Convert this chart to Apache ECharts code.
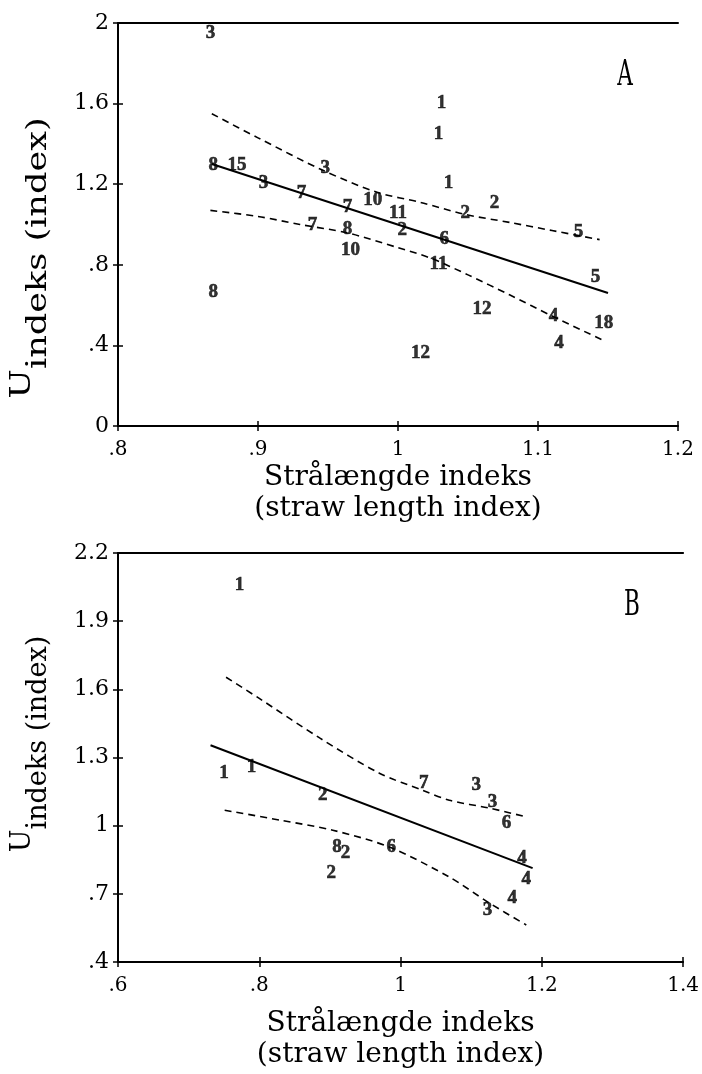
<!DOCTYPE html>
<html>
<head>
<meta charset="utf-8">
<script src="https://cdn.jsdelivr.net/npm/echarts@6/dist/echarts.min.js"></script>
<style>html,body{margin:0;padding:0;background:#fff}#c{width:702px;height:1074px}</style>
</head>
<body>
<div id="c"></div>
<script>
// ---------- Panel A data ----------
const labelsA = ['3','1','1','1','2','2','5','5','18','4','4','12','12','11','6','11','2','10','7','8','10','7','7','3','3','8','15','8'];
const xA = [0.866,1.031,1.029,1.036,1.069,1.048,1.129,1.141,1.147,1.111,1.115,1.060,1.016,1.029,1.033,1.000,1.003,0.982,0.964,0.964,0.966,0.939,0.931,0.904,0.948,0.868,0.885,0.868];
const yA = [1.950,1.603,1.449,1.206,1.107,1.057,0.963,0.739,0.511,0.546,0.412,0.581,0.362,0.804,0.928,1.057,0.973,1.122,1.087,0.978,0.873,0.998,1.156,1.206,1.280,1.295,1.295,0.665];
const regAx = [0.867,1.150];
const regAy = [1.300,0.660];
const upAx = [0.867,0.900,0.946,0.985,1.016,1.048,1.080,1.110,1.144];
const upAy = [1.550,1.430,1.270,1.160,1.110,1.050,1.010,0.970,0.925];
const loAx = [0.866,0.900,0.930,0.964,1.000,1.023,1.050,1.080,1.110,1.146];
const loAy = [1.070,1.040,1.000,0.958,0.885,0.834,0.750,0.650,0.546,0.427];
const xTicksA = [0.8,0.9,1.0,1.1,1.2];
const yTicksA = [0,0.4,0.8,1.2,1.6,2.0];

// ---------- Panel B data ----------
const labelsB = ['1','1','1','2','7','3','3','6','4','4','4','3','6','8','2','2'];
const xB = [0.772,0.750,0.789,0.890,1.033,1.107,1.130,1.150,1.172,1.178,1.158,1.123,0.987,0.910,0.922,0.902];
const yB = [2.057,1.231,1.257,1.134,1.187,1.178,1.103,1.011,0.857,0.765,0.681,0.629,0.906,0.906,0.879,0.791];
const regBx = [0.731,1.187];
const regBy = [1.354,0.813];
const upBx = [0.753,0.800,0.886,0.970,1.031,1.069,1.126,1.180];
const upBy = [1.653,1.560,1.385,1.231,1.156,1.112,1.077,1.037];
const loBx = [0.751,0.830,0.904,0.984,1.069,1.126,1.178];
const loBy = [1.068,1.024,0.980,0.906,0.774,0.659,0.563];
const xTicksB = [0.6,0.8,1.0,1.2,1.4];
const yTicksB = [0.4,0.7,1.0,1.3,1.6,1.9,2.2];

const xNameText = 'Strålængde indeks\n(straw length index)';
const yNameText = '{u|U}{s|indeks (index)}';

// ---------- helpers ----------
const SERIF = '"DejaVu Serif", serif';
const fmt = v => String(Math.round(v * 1000) / 1000).replace(/^0\./, '.');
const pairs = (xs, ys) => xs.map((x, i) => [x, ys[i]]);
const triples = (xs, ys, ls) => xs.map((x, i) => [x, ys[i], ls[i]]);

function mainX(grid, min, max, ticks, gap) {
  return {
    gridIndex: grid, type: 'value', min, max, position: 'bottom',
    axisLine: { lineStyle: { color: '#000', width: 2 } },
    axisTick: { length: 5, customValues: ticks, lineStyle: { color: '#000', width: 1.5 } },
    axisLabel: { customValues: ticks, formatter: fmt, margin: 14, color: '#000', fontSize: 20, fontFamily: SERIF },
    splitLine: { show: false },
    name: xNameText, nameLocation: 'middle', nameGap: gap,
    nameTextStyle: { color: '#000', fontSize: 28, fontFamily: SERIF, lineHeight: 31 }
  };
}
function innerX(grid, min, max, ticks) {
  return {
    gridIndex: grid, type: 'value', min, max, position: 'bottom',
    axisLine: { show: false },
    axisTick: { inside: true, length: 5, customValues: ticks, lineStyle: { color: '#000', width: 1.5 } },
    axisLabel: { show: false }, splitLine: { show: false }
  };
}
function topX(grid, min, max) {
  return {
    gridIndex: grid, type: 'value', min, max, position: 'top',
    axisLine: { lineStyle: { color: '#000', width: 2 } },
    axisTick: { show: false }, axisLabel: { show: false }, splitLine: { show: false }
  };
}
function mainY(grid, min, max, ticks) {
  return {
    gridIndex: grid, type: 'value', min, max, position: 'left',
    axisLine: { lineStyle: { color: '#000', width: 2 } },
    axisTick: { length: 5, customValues: ticks, lineStyle: { color: '#000', width: 1.5 } },
    axisLabel: { customValues: ticks, formatter: fmt, margin: 9, color: '#000', fontSize: 22, fontFamily: SERIF },
    splitLine: { show: false }
  };
}
function innerY(grid, min, max, ticks) {
  return {
    gridIndex: grid, type: 'value', min, max, position: 'left',
    axisLine: { show: false },
    axisTick: { inside: true, length: 5, customValues: ticks, lineStyle: { color: '#000', width: 1.5 } },
    axisLabel: { show: false }, splitLine: { show: false }
  };
}
function labelSeries(xi, yi, data) {
  return {
    type: 'scatter', xAxisIndex: xi, yAxisIndex: yi, data, symbolSize: 2, z: 5,
    itemStyle: { color: 'rgba(0,0,0,0)' },
    label: { show: true, position: 'inside', formatter: p => p.value[2], color: '#000',
      textBorderColor: '#000', textBorderWidth: 0.6,
      fontWeight: 'bold', fontSize: 19, fontFamily: '"Liberation Serif", serif' }
  };
}
function lineSeries(xi, yi, data, dashed) {
  return {
    type: 'line', xAxisIndex: xi, yAxisIndex: yi, data, showSymbol: false, symbol: 'none',
    smooth: dashed ? 0.3 : false, z: 3,
    lineStyle: { color: '#000', width: dashed ? 1.6 : 2, type: dashed ? [7, 5] : 'solid' }
  };
}
function yName(x, y, sx) {
  return {
    type: 'text', x, y, rotation: Math.PI / 2, scaleX: sx, z: 10,
    style: {
      text: yNameText, fill: '#000', fontSize: 27, fontFamily: SERIF, align: 'center', verticalAlign: 'middle',
      rich: {
        u: { fill: '#000', fontSize: 27, fontFamily: SERIF, padding: [0, 0, 16, 0], verticalAlign: 'bottom' },
        s: { fill: '#000', fontSize: 27, fontFamily: SERIF, verticalAlign: 'bottom' }
      }
    }
  };
}
function panelLetter(t, x, y) {
  return { type: 'text', x, y, scaleX: 0.6, z: 10,
    style: { text: t, fill: '#000', fontSize: 36, fontFamily: SERIF, align: 'center', verticalAlign: 'middle' } };
}

const chart = echarts.init(document.getElementById('c'), null, { renderer: 'canvas' });
chart.setOption({
  animation: false,
  backgroundColor: '#fff',
  grid: [
    { left: 118, right: 24, top: 23, bottom: 648 },
    { left: 118, right: 18, top: 553, bottom: 112 }
  ],
  xAxis: [
    mainX(0, 0.8, 1.2, xTicksA, 36), innerX(0, 0.8, 1.2, xTicksA), topX(0, 0.8, 1.2),
    mainX(1, 0.6, 1.4, xTicksB, 46), innerX(1, 0.6, 1.4, xTicksB), topX(1, 0.6, 1.4)
  ],
  yAxis: [
    mainY(0, 0, 2, yTicksA), innerY(0, 0, 2, yTicksA),
    mainY(1, 0.4, 2.2, yTicksB), innerY(1, 0.4, 2.2, yTicksB)
  ],
  graphic: [
    yName(31, 258, 1.3),
    yName(31, 744, 1.0),
    panelLetter('A', 625, 76),
    panelLetter('B', 632, 606)
  ],
  series: [
    lineSeries(0, 0, pairs(regAx, regAy), false),
    lineSeries(0, 0, pairs(upAx, upAy), true),
    lineSeries(0, 0, pairs(loAx, loAy), true),
    labelSeries(0, 0, triples(xA, yA, labelsA)),
    lineSeries(3, 2, pairs(regBx, regBy), false),
    lineSeries(3, 2, pairs(upBx, upBy), true),
    lineSeries(3, 2, pairs(loBx, loBy), true),
    labelSeries(3, 2, triples(xB, yB, labelsB))
  ]
});
</script>
</body>
</html>
